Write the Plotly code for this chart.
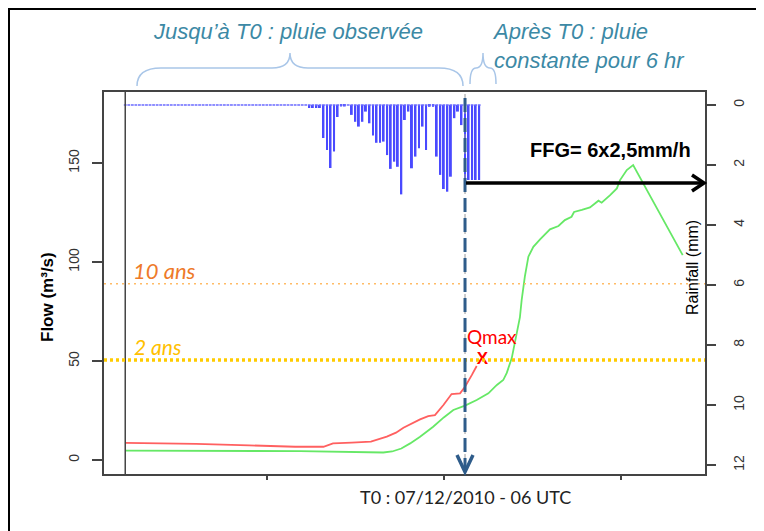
import plotly.graph_objects as go

# ==== Rainfall (mm), hourly steps, T0 = step 0 ====
rain_steps = list(range(-96, 0))
rain_obs = [
    0, 0, 0, 0, 0, 0, 0, 0, 0, 0, 0, 0, 0,
    0, 0, 0, 0, 0, 0, 0, 0, 0, 0, 0, 0, 0,
    0, 0, 0, 0, 0, 0, 0, 0, 0, 0, 0, 0, 0,
    0, 0, 0, 0, 0, 0, 0, 0, 0, 0, 0, 0, 0,
    0.1, 0.1, 0.1, 0.1, 1.1, 1.5, 2.1, 1.55, 0.4, 0.05, 0.05, 0, 0.33,
    0.56, 0.72, 0.56, 0.22, 0.61, 1.02, 1.26, 1.26, 1.22, 1.67, 2.13,
    1.89, 2.06, 2.98, 0.5, 0.22, 2.11, 1.72, 1.44, 0.72, 1.5, 0.06,
    0.06, 1.72, 2.33, 2.8, 2.89, 2.39, 0.44, 0.22, 0.67,
]
ffg_steps = [0, 1, 2, 3, 4]
ffg_rain = [2.5, 2.5, 2.5, 2.5, 2.5]

# ==== Observed flow (m3/s) ====
obs_t = [-96, -86, -76, -61, -48, -40, -37.3, -32, -26.6, -22.1, -19.5,
         -17.4, -15, -12.7, -10.4, -8.5, -6.1, -3.8, -1.4, 0, 1.9, 3.3]
obs_q = [8.7, 8.5, 8.1, 7.4, 6.7, 6.7, 8.4, 8.8, 9.3, 11.8, 13.8,
         16.3, 18.5, 20.5, 22.2, 22.7, 27.8, 33.3, 33.7, 37, 42.9, 47.5]

# ==== Simulated flow (m3/s) ====
sim_t = [-96, -70, -46.6, -23.1, -20.6, -18, -15.5, -12.7, -9, -6,
         -3.3, 0, 3.3, 6.6, 9, 10.8, 11.8, 13.2, 14.6, 15.5,
         16, 16.9, 17.9, 19.3, 21.2, 24, 26.4, 28.2, 30.1, 30.8,
         33, 35.3, 37.7, 38.6, 41, 42.9, 43.8, 45.7, 47.5, 61.5]
sim_q = [4.7, 4.6, 4.5, 3.8, 4.3, 5.8, 8.4, 11.8, 16.8, 21.5,
         25.3, 27.5, 30.3, 33.7, 37.9, 40.4, 44, 51.5, 63, 72,
         80.8, 92.6, 102.7, 107.7, 111.4, 116.5, 118.2, 121.2, 122.9, 125.3,
         126.3, 127.6, 131, 130, 133.8, 137.2, 141.4, 146.5, 149, 103.5]

qmax_t, qmax_q = 4.9, 50.5
q10 = 89      # 10 ans
q2 = 50.5     # 2 ans
t0 = 0
x_ticks = [-56, -6, 44]

BLUE = "#4a4aff"
TEAL = "#3c89a5"


def P(x, y):
    # page pixel -> paper coords (plot area 104..705 x 92..474)
    return (x - 104) / 601, (474 - y) / 382


def path(points):
    s = ""
    for cmd, pts in points:
        s += cmd + " " + " ".join("%.5f,%.5f" % P(*p) for p in pts) + " "
    return s.strip()


fig = go.Figure()

# rain bars (right axis, reversed)
fig.add_trace(go.Bar(x=rain_steps + ffg_steps, y=rain_obs + ffg_rain, yaxis="y2",
                     width=0.55, marker=dict(color=BLUE, line=dict(width=0))))
fig.add_trace(go.Scatter(x=rain_steps + ffg_steps, y=[0] * (len(rain_steps) + len(ffg_steps)),
                         yaxis="y2", mode="markers",
                         marker=dict(symbol="line-ew", size=2, line=dict(color="#6a6aff", width=1.5))))

# flows
fig.add_trace(go.Scatter(x=sim_t, y=sim_q, mode="lines", line=dict(color="#66e866", width=1.8)))
fig.add_trace(go.Scatter(x=obs_t, y=obs_q, mode="lines", line=dict(color="#ff6060", width=1.8)))
fig.add_trace(go.Scatter(x=[qmax_t], y=[qmax_q], mode="text", text=["<b>X</b>"],
                         textposition="middle center",
                         textfont=dict(color="#ff0000", size=17, family="Liberation Sans")))

shapes = [
    # outer frame
    dict(type="rect", xref="paper", yref="paper",
         x0=P(9, 0)[0], x1=P(757, 0)[0], y0=P(0, 560)[1], y1=P(0, 9)[1],
         line=dict(color="black", width=2)),
    # first data line
    dict(type="line", xref="x", yref="paper", x0=obs_t[0], x1=obs_t[0], y0=0, y1=1,
         line=dict(color="#444", width=1.5)),
    # thresholds
    dict(type="line", xref="paper", yref="y", x0=0, x1=1, y0=q10, y1=q10,
         line=dict(color="#ffbb66", width=1.5, dash="2px,4px")),
    dict(type="line", xref="paper", yref="y", x0=0, x1=1, y0=q2, y1=q2,
         line=dict(color="#ffcc00", width=3.5, dash="3px,3px")),
    # T0 line
    dict(type="line", xref="x", yref="paper", x0=t0, x1=t0, y0=0, y1=1,
         line=dict(color="#9a9a9a", width=1, dash="4px,4px")),
    dict(type="line", xref="x", yref="paper", x0=t0, x1=t0, y0=0.005, y1=0.985,
         line=dict(color="#2e5c8a", width=3, dash="14px,6px")),
    dict(type="path", xref="paper", yref="paper",
         path=path([("M", [(457, 455)]), ("L", [(465, 472)]), ("L", [(473, 455)])]),
         line=dict(color="#2e5c8a", width=3.5)),
    # FFG arrow
    dict(type="line", xref="paper", yref="paper",
         x0=P(466, 183)[0], x1=P(704, 183)[0], y0=P(0, 183)[1], y1=P(0, 183)[1],
         line=dict(color="black", width=3.5)),
    dict(type="path", xref="paper", yref="paper",
         path=path([("M", [(692, 175)]), ("L", [(704, 183)]), ("L", [(692, 191)])]),
         line=dict(color="black", width=3.5)),
    # braces
    dict(type="path", xref="paper", yref="paper",
         path=path([("M", [(137, 86)]), ("Q", [(137, 68), (161, 68)]), ("L", [(272, 68)]),
                    ("Q", [(290, 68), (290, 53)]), ("Q", [(290, 68), (308, 68)]),
                    ("L", [(439, 68)]), ("Q", [(463, 68), (463, 86)])]),
         line=dict(color="#a9c6e8", width=1.5)),
    dict(type="path", xref="paper", yref="paper",
         path=path([("M", [(470, 84)]), ("Q", [(470, 68), (476, 68)]),
                    ("Q", [(483, 68), (483, 53)]), ("Q", [(483, 68), (490, 68)]),
                    ("Q", [(496, 68), (496, 84)])]),
         line=dict(color="#a9c6e8", width=1.5)),
]


def ann(text, x, y, **kw):
    px, py = P(x, y)
    d = dict(text=text, x=px, y=py, xref="paper", yref="paper", showarrow=False,
             xanchor="center", yanchor="middle")
    d.update(kw)
    return d


narrow = "Liberation Sans Narrow, Liberation Sans, Arial"
annotations = [
    ann("<i>Jusqu’à T0 : pluie observée</i>", 288, 32,
        font=dict(family=narrow, size=22, color=TEAL)),
    ann("<i>Après T0 : pluie<br>constante pour 6 hr</i>", 490, 46, xanchor="left", align="left",
        font=dict(family=narrow, size=22, color=TEAL)),
    ann("<b>FFG= 6x2,5mm/h</b>", 610, 150,
        font=dict(family="Liberation Sans", size=20, color="black")),
    ann("Qmax", 492, 336, font=dict(family="Lato", size=19, color="#ff0000")),
    ann("<i>10 ans</i>", 131, 270, xanchor="left",
        font=dict(family="Lato", size=22, color="#ee7a2a")),
    ann("<i>2 ans</i>", 132, 346, xanchor="left",
        font=dict(family="Lato", size=21, color="#ffc000")),
    ann("T0 : 07/12/2010 - 06 UTC", 465, 497,
        font=dict(family="Lato", size=18, color="#222")),
    ann("<b>Flow (m³/s)</b>", 47, 297, textangle=-90,
        font=dict(family="Liberation Sans", size=17, color="black")),
    ann("Rainfall (mm)", 692, 268, textangle=-90,
        font=dict(family="Liberation Sans", size=16, color="black")),
]

axis_common = dict(showgrid=False, zeroline=False, ticks="outside", tickwidth=1.5,
                   automargin=False, tickcolor="#444",
                   tickfont=dict(family="Liberation Sans", size=14, color="#333"))

# page body has an 8px margin: figure starts at page (8, 8)
fig.update_layout(
    width=756, height=523,
    margin=dict(l=96, r=59, t=84, b=57),
    paper_bgcolor="white", plot_bgcolor="white",
    showlegend=False,
    xaxis=dict(range=[-102, 67.8], tickvals=x_ticks, showticklabels=False, ticklen=4,
               showline=True, mirror=True, linecolor="#444", linewidth=1.5,
               **{k: v for k, v in axis_common.items() if k != "tickfont"}),
    yaxis=dict(range=[-7.07, 185.9], dtick=50, ticklen=10, tickangle=-90,
               ticklabelstandoff=8,
               showline=True, mirror=True, linecolor="#444", linewidth=1.5, **axis_common),
    yaxis2=dict(range=[12.3, -0.433], dtick=2, ticklen=10, tickangle=-90,
                ticklabelstandoff=11,
                overlaying="y", side="right", showline=False, **axis_common),
    shapes=shapes,
    annotations=annotations,
)

fig.write_html("out.html")
